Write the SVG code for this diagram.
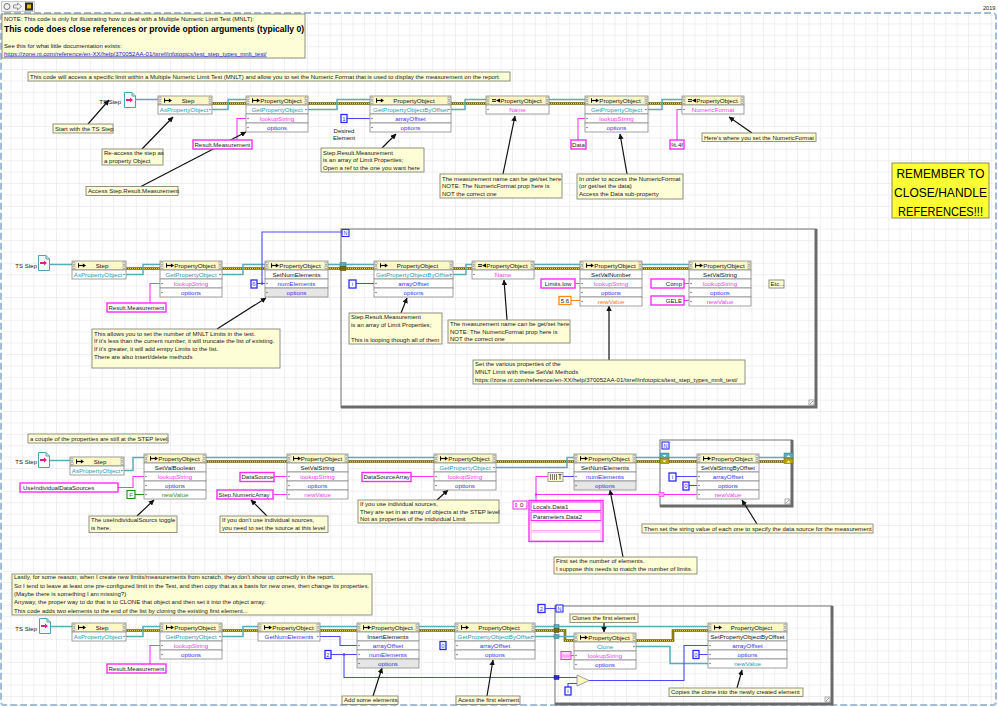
<svg xmlns="http://www.w3.org/2000/svg" width="998" height="707" viewBox="0 0 998 707">
<style>
text{font-family:"Liberation Sans",Arial,sans-serif}
.a{font-size:6.05px;fill:#1a1a1a}
.n{font-size:6.2px;text-anchor:middle;fill:#111}
.m{text-anchor:middle}
.tl{fill:#2a9aae}
.pk{fill:#f23cf0}
.bl{fill:#3535ee}
.or{fill:#ff7a00}
.gr{fill:#1b951b}
.h{fill:#fbf8c6;stroke:#8a8a8a;stroke-width:0.8}
.r{fill:#fff;stroke:#8a8a8a;stroke-width:0.8}
.rg{fill:#e6e6e6;stroke:#8a8a8a;stroke-width:0.8}
.d{fill:#555}
.cm{fill:#fdfdd6;stroke:#86867a;stroke-width:0.9}
.cs{fill:#fff;stroke:#ff2cf5;stroke-width:1.4}
.ci{fill:#fff;stroke:#2b2bff;stroke-width:1.3}
.co{fill:#fff;stroke:#ff8a1a;stroke-width:1.3}
.cg{fill:#fff;stroke:#1a8f1a;stroke-width:1.1}
.wt{fill:none;stroke:#58adb8;stroke-width:1.5}
.wp{fill:none;stroke:#ff3af2;stroke-width:1.1}
.wb{fill:none;stroke:#4a4af5;stroke-width:1.1}
.wo{fill:none;stroke:#ff8a1a;stroke-width:1.1}
.wg{fill:none;stroke:#1a8f1a;stroke-width:1.1}
.ar{fill:none;stroke:#111;stroke-width:1.2;marker-end:url(#ah)}
.lp{fill:none;stroke:#8a8a8a;stroke-width:1.2}
.lps{fill:none;stroke:#6a6a6a;stroke-width:3}
.nb{fill:#fff;stroke:#2b2bff;stroke-width:1.1}
</style>
<defs>
<pattern id="grid" width="11.4" height="11.4" patternUnits="userSpaceOnUse" x="0" y="13"><path d="M11.4 0V11.4H0" fill="none" stroke="#e2e2e2" stroke-width="1"/></pattern>
<marker id="ah" viewBox="0 0 8 8" refX="7.5" refY="4" markerWidth="5.5" markerHeight="5.5" markerUnits="userSpaceOnUse" orient="auto"><path d="M0 0L8 4L0 8z" fill="#111"/></marker>
<symbol id="ab" viewBox="0 0 3 8"><path d="M0.3 0.6h2.4v2.6h-2.4zM0.3 4.6h2.4v2.6h-2.4z" fill="#fff" stroke="#555" stroke-width="0.5"/></symbol>
<symbol id="mi" viewBox="0 0 9 5"><path d="M0.6 0v5" stroke="#000" stroke-width="1.1"/><path d="M1 2.5h5" stroke="#000" stroke-width="1.3"/><path d="M5.5 0.3L9 2.5 5.5 4.7z" fill="#000"/></symbol>
<symbol id="pi" viewBox="0 0 9 5"><path d="M0 1.5h4.5M0 3.5h4.5" stroke="#000" stroke-width="1"/><path d="M9 0.2v4.6L4.5 2.5z" fill="#000"/></symbol>
<symbol id="ts" viewBox="0 0 12 16"><path d="M0.5 0.5H8L11.5 4V15.5H0.5Z" fill="#f2fafa" stroke="#4aa5b0"/><path d="M8 0.5V4H11.5" fill="none" stroke="#4aa5b0"/><path d="M2 7h4v-1.5l3 2.5-3 2.5V9H2z" fill="#e0208a"/></symbol>
<g id="errs" fill="none">
<path d="M212 103.5H246M308 103.5H370M451 103.5H486M549 103.5H585M648 103.5H682"/>
<path d="M126 268.5H160M222 268.5H265M328 268.5H374M453 268.5H472M534 268.5H580M642 268.5H689"/>
<path d="M206 461.5H287M348 461.5H434M496 461.5H574M636 461.5H697M759 461.5H792"/>
<path d="M126 630.5H160M222 630.5H258M320 630.5H357M419 630.5H455M535 630.5H565V640.5H574M636 640.5H673V630.5H708"/>
</g>
</defs>

<rect x="0" y="0" width="998" height="707" fill="#fff"/>
<rect x="1" y="13" width="995" height="692" fill="url(#grid)"/>
<rect x="1" y="13" width="995" height="692" rx="3" fill="none" stroke="#a4bcd6" stroke-width="2" stroke-dasharray="7 3"/>

<g id="toolbar">
<rect x="1.5" y="1.5" width="33" height="10" fill="#f4f4f4" stroke="#c8c8c8"/>
<circle cx="7" cy="6.5" r="3" fill="none" stroke="#777"/>
<path d="M13.5 5h4v-2l4 3.5-4 3.5v-2h-4z" fill="none" stroke="#777" stroke-width="0.8"/>
<rect x="25" y="2.5" width="8" height="8" fill="#2b2b2b"/><rect x="27" y="4.5" width="4" height="4" fill="#e8c000"/>
<text x="983" y="10" style="font-size:5.6px" class="a">2019</text>
</g>

<g id="note">
<rect class="cm" x="2" y="14" width="303" height="44"/>
<text class="a" x="4" y="20.5">NOTE:  This code is only for illustrating how to deal with a  Multiple Numeric Limit Test (MNLT):</text>
<text x="4" y="32" style="font-size:8.3px;font-weight:bold" textLength="300" lengthAdjust="spacingAndGlyphs">This code does close references or provide option arguments (typically 0)</text>
<text class="a" x="4" y="48">See this for what little documentation exists:</text>
<text class="a" x="4" y="55.5" style="fill:#2323c8;text-decoration:underline">https://zone.ni.com/reference/en-XX/help/370052AA-01/tsref/infotopics/test_step_types_mnlt_test/</text>
</g>

<g id="remember">
<rect x="892" y="163" width="97" height="55" fill="#ffff33" stroke="#8a8a60"/>
<text x="940.5" y="177.7" class="m" style="font-size:13px" textLength="88" lengthAdjust="spacingAndGlyphs">REMEMBER TO</text>
<text x="940.5" y="196.7" class="m" style="font-size:13px" textLength="93" lengthAdjust="spacingAndGlyphs">CLOSE/HANDLE</text>
<text x="940.5" y="215.7" class="m" style="font-size:13px" textLength="85" lengthAdjust="spacingAndGlyphs">REFERENCES!!!</text>
</g>

<g id="loops">
<rect class="lp" x="341" y="229" width="475" height="178"/><path class="lps" d="M816 229V407H341"/>
<rect x="809" y="400" width="5" height="5" fill="#fff" stroke="#777" stroke-width="0.6"/><path d="M810 404L813 401" stroke="#555" stroke-width="0.6"/>
<rect class="lp" x="660" y="440" width="132" height="66"/><path class="lps" d="M792 440V506H660"/>
<rect x="785" y="499" width="5" height="5" fill="#fff" stroke="#777" stroke-width="0.6"/><path d="M786 503L789 500" stroke="#555" stroke-width="0.6"/>
<rect class="lp" x="555" y="606" width="277" height="98"/><path class="lps" d="M832 606V704H555"/>
<rect x="825" y="697" width="5" height="5" fill="#fff" stroke="#777" stroke-width="0.6"/><path d="M826 701L829 698" stroke="#555" stroke-width="0.6"/>
</g>

<g id="connectors">
<use href="#errs" stroke="#6f6200" stroke-width="2.6"/>
<use href="#errs" stroke="#eadb3c" stroke-width="0.9" stroke-dasharray="1 1"/>
<path class="wt" d="M136 99.5H158M212 109.5H228V99.5H246M308 109.5H337V99.5H370M451 109.5H465V99.5H486M549 99.5H585M648 109.5H662V99.5H682"/>
<path class="wt" d="M50 264.5H72M126 274.5H143V264.5H160M222 274.5H243V264.5H265M328 264.5H374M453 274.5H466V264.5H472M534 264.5H580M642 264.5H689"/>
<path class="wt" d="M49 460.5H70M124 470.5H133V457.5H144M206 457.5H287M348 457.5H434M496 467.5H567V457.5H574M636 457.5H697M759 457.5H792"/>
<path class="wt" d="M50 626.5H72M126 636.5H143V626.5H160M222 636.5H243V626.5H258M320 626.5H357M419 626.5H455M535 626.5H708M535 636.5H574M636 646.5H670V663.5H708"/>
<path class="wp" d="M237 140V118.5H246M578 140V118.5H585M677 140V109.5H682"/>
<path class="wp" d="M150 303V283.5H160M575 283.5H580M684 283.5H689M684 300.5H689"/>
<path class="wp" d="M118 487.5H133V476.5H144M274 476.5H287M273 494.5H287M411 476.5H434M536 500.5V476.5H548M536 494.5H697"/>
<path class="wp" d="M150 664V645.5H160M571 655.5H574"/>
<path class="wb" d="M347 118.5H370"/>
<path class="wb" d="M257 283.5H265M262 283.5V232H342M356 283.5H374"/>
<path class="wb" d="M563 476.5H574M676 476.5H697M689 485.5H697"/>
<path class="wb" d="M320 636.5H340V645.5H357M331 654.5H357M344 654.5V677.5H577M568 687V683.5H577M589 680.5H684V645.5H708M699 654.5H708M545 608.5H556"/>
<path class="wo" d="M571 300.5H580"/>
<path class="wg" d="M135 494.5H144"/>
<circle cx="262" cy="283.5" r="1.3" fill="#4a4af5"/>
<circle cx="536" cy="494.5" r="1.3" fill="#ff3af2"/>
<circle cx="344" cy="654.5" r="1.3" fill="#4a4af5"/>
<path class="ar" d="M88 124L109 100"/>
<path class="ar" d="M142 149L173 117"/>
<path class="ar" d="M140 187L246 132"/>
<path class="ar" d="M382 148L396 134"/>
<path class="ar" d="M503 174L515 116"/>
<path class="ar" d="M627 174L620 134"/>
<path class="ar" d="M752 133L729 117"/>
<path class="ar" d="M217 329L266 298"/>
<path class="ar" d="M401 313L407 298"/>
<path class="ar" d="M507 320L504 280"/>
<path class="ar" d="M609 360V306"/>
<path class="ar" d="M137 516L154 500"/>
<path class="ar" d="M267 516L251 500"/>
<path class="ar" d="M437 500L448 490"/>
<path class="ar" d="M623 557L610 490"/>
<path class="ar" d="M757 524L742 500"/>
<path class="ar" d="M373 696L382 668"/>
<path class="ar" d="M487 696L493 660"/>
<path class="ar" d="M604 623V632"/>
<path class="ar" d="M737 688L742 670"/>
</g>

<g id="tunnels">
<rect x="340" y="262.5" width="6" height="4" fill="#58adb8" stroke="#2f7f88" stroke-width="0.5"/>
<rect x="340" y="266.5" width="6" height="4" fill="#7a6c00" stroke="#4f4500" stroke-width="0.5"/>
<rect x="342" y="229.5" width="7" height="7" class="nb"/><text x="345.5" y="235.3" class="m bl" style="font-size:5.5px">N</text>
<rect x="660" y="453" width="9" height="5" fill="#58adb8" stroke="#2f7f88" stroke-width="0.5"/>
<rect x="660" y="458.5" width="9" height="5" fill="#b6a400" stroke="#6f6200" stroke-width="0.5"/>
<path d="M662.5 455h4l-2 2z" fill="#fff"/><path d="M662.5 460.5h4l-2 2z" fill="#fff"/>
<rect x="784" y="453" width="9" height="5" fill="#58adb8" stroke="#2f7f88" stroke-width="0.5"/>
<rect x="784" y="458.5" width="9" height="5" fill="#b6a400" stroke="#6f6200" stroke-width="0.5"/>
<path d="M786.5 457h4l-2 -2z" fill="#fff"/><path d="M786.5 462.5h4l-2 -2z" fill="#fff"/>
<rect x="659" y="492.5" width="5" height="4" fill="#ff9cf5" stroke="#ff2cf5" stroke-width="0.6"/>
<rect x="662" y="442" width="7" height="7" class="nb"/><text x="665.5" y="447.8" class="m bl" style="font-size:5.5px">N</text>
<rect x="554" y="624.5" width="5" height="4" fill="#58adb8" stroke="#2f7f88" stroke-width="0.5"/>
<rect x="554" y="628.5" width="5" height="4" fill="#7a6c00" stroke="#4f4500" stroke-width="0.5"/>
<rect x="554" y="634.5" width="5" height="4" fill="#58adb8" stroke="#2f7f88" stroke-width="0.5"/>
<rect x="554" y="675.5" width="5" height="4" fill="#2b2bd0" stroke="#1a1a90" stroke-width="0.5"/>
<rect x="556" y="605" width="7" height="7" class="nb"/><text x="559.5" y="610.8" class="m bl" style="font-size:5.5px">N</text>
</g>

<g id="row1">
<g id="tsstep1"><text x="121" y="104" style="font-size:6px;text-anchor:end" class="a">TS Step</text><use href="#ts" x="124" y="92" width="12" height="16"/></g>
<g id="n1-step">
<rect class="h" x="158" y="96" width="54" height="9"/><use href="#ab" x="158.5" y="96.5" width="3" height="8"/><use href="#ab" x="208.5" y="96.5" width="3" height="8"/><use href="#mi" x="164" y="98" width="8" height="5"/>
<text class="n" x="188" y="102.6">Step</text>
<rect class="r" x="158" y="105" width="54" height="9"/><text class="n tl" x="184" y="111.6">AsPropertyObject</text><circle class="d" cx="210" cy="109.5" r="0.7"/>
</g>
<g id="n1-get">
<rect class="h" x="246" y="96" width="62" height="9"/><use href="#ab" x="246.5" y="96.5" width="3" height="8"/><use href="#ab" x="304.5" y="96.5" width="3" height="8"/><use href="#mi" x="252" y="98" width="8" height="5"/>
<text class="n" x="281" y="102.6">PropertyObject</text>
<rect class="r" x="246" y="105" width="62" height="9"/><text class="n tl" x="277" y="111.6">GetPropertyObject</text><circle class="d" cx="306" cy="109.5" r="0.7"/>
<rect class="r" x="246" y="114" width="62" height="9"/><text class="n pk" x="277" y="120.6">lookupString</text><circle class="d" cx="248" cy="118.5" r="0.7"/>
<rect class="r" x="246" y="123" width="62" height="9"/><text class="n bl" x="277" y="129.6">options</text><circle class="d" cx="248" cy="127.5" r="0.7"/>
</g>
<g id="n1-byoffset">
<rect class="h" x="370" y="96" width="81" height="9"/><use href="#ab" x="370.5" y="96.5" width="3" height="8"/><use href="#ab" x="447.5" y="96.5" width="3" height="8"/><use href="#mi" x="376" y="98" width="8" height="5"/>
<text class="n" x="414" y="102.6">PropertyObject</text>
<rect class="r" x="370" y="105" width="81" height="9"/><text class="n tl" x="410.5" y="111.6">GetPropertyObjectByOffset</text><circle class="d" cx="449" cy="109.5" r="0.7"/>
<rect class="r" x="370" y="114" width="81" height="9"/><text class="n bl" x="410.5" y="120.6">arrayOffset</text><circle class="d" cx="372" cy="118.5" r="0.7"/>
<rect class="r" x="370" y="123" width="81" height="9"/><text class="n bl" x="410.5" y="129.6">options</text><circle class="d" cx="372" cy="127.5" r="0.7"/>
</g>
<g id="n1-name">
<rect class="h" x="486" y="96" width="63" height="9"/><use href="#ab" x="486.5" y="96.5" width="3" height="8"/><use href="#ab" x="545.5" y="96.5" width="3" height="8"/><use href="#pi" x="492" y="98" width="8" height="5"/>
<text class="n" x="521" y="102.6">PropertyObject</text>
<rect class="r" x="486" y="105" width="63" height="9"/><text class="n pk" x="517.5" y="111.6">Name</text><circle class="d" cx="488" cy="109.5" r="0.7"/>
</g>
<g id="n1-getdata">
<rect class="h" x="585" y="96" width="63" height="9"/><use href="#ab" x="585.5" y="96.5" width="3" height="8"/><use href="#ab" x="644.5" y="96.5" width="3" height="8"/><use href="#mi" x="591" y="98" width="8" height="5"/>
<text class="n" x="620" y="102.6">PropertyObject</text>
<rect class="r" x="585" y="105" width="63" height="9"/><text class="n tl" x="616.5" y="111.6">GetPropertyObject</text><circle class="d" cx="646" cy="109.5" r="0.7"/>
<rect class="r" x="585" y="114" width="63" height="9"/><text class="n pk" x="616.5" y="120.6">lookupString</text><circle class="d" cx="587" cy="118.5" r="0.7"/>
<rect class="r" x="585" y="123" width="63" height="9"/><text class="n bl" x="616.5" y="129.6">options</text><circle class="d" cx="587" cy="127.5" r="0.7"/>
</g>
<g id="n1-numfmt">
<rect class="h" x="682" y="96" width="62" height="9"/><use href="#ab" x="682.5" y="96.5" width="3" height="8"/><use href="#ab" x="740.5" y="96.5" width="3" height="8"/><use href="#pi" x="688" y="98" width="8" height="5"/>
<text class="n" x="717" y="102.6">PropertyObject</text>
<rect class="r" x="682" y="105" width="62" height="9"/><text class="n pk" x="713" y="111.6">NumericFormat</text><circle class="d" cx="684" cy="109.5" r="0.7"/>
</g>
<g id="k1-rm"><rect class="cs" x="193" y="140" width="59" height="9"/><text class="a" x="194.5" y="146.5">Result.Measurement</text></g>
<g id="k1-one"><rect class="ci" x="341" y="114.5" width="6" height="8"/><text class="a m bl" x="344" y="120.8">1</text></g>
<g id="k1-data"><rect class="cs" x="571" y="140" width="15" height="9"/><text class="a m" x="578.5" y="146.5">Data</text></g>
<g id="k1-fmt"><rect class="cs" x="670" y="140" width="14" height="9"/><text class="a m" x="677" y="146.5">%.4f</text></g>
<text class="a m" x="344" y="133">Desired</text><text class="a m" x="344" y="140">Element</text>
<g id="c1-intro"><rect class="cm" x="28" y="72" width="482" height="9"/><text class="a" x="30" y="78.8">This code will access a specific limit within a Multiple Numeric Limit Test (MNLT) and allow you to set the Numeric Format that is used to display the measurement on the report:</text></g>
<g id="c1-start"><rect class="cm" x="53" y="124" width="60" height="9"/><text class="a" x="55" y="130.5">Start with the TS Step</text></g>
<g id="c1-reaccess"><rect class="cm" x="102" y="149" width="61" height="16"/><text class="a" x="104" y="155.3">Re-access the step as</text><text class="a" x="104" y="162.6">a property Object</text></g>
<g id="c1-access"><rect class="cm" x="86" y="186.5" width="92" height="9"/><text class="a" x="88" y="193">Access Step.Result.Measurement</text></g>
<g id="c1-array"><rect class="cm" x="321" y="148" width="103" height="24"/><text class="a" x="323" y="154.5">Step.Result.Measurement</text><text class="a" x="323" y="162">is an array of Limit Properties;</text><text class="a" x="323" y="169.5">Open a ref to the one you want here</text></g>
<g id="c1-name"><rect class="cm" x="440" y="174" width="122" height="24"/><text class="a" x="442" y="180.5">The measurement name can be get/set here</text><text class="a" x="442" y="188.2">NOTE:  The NumericFormat prop here is</text><text class="a" x="442" y="195.8">NOT the correct one</text></g>
<g id="c1-data"><rect class="cm" x="577" y="174" width="106" height="25"/><text class="a" x="579" y="180.5">In order to access the NumericFormat</text><text class="a" x="579" y="188.2">(or get/set the data)</text><text class="a" x="579" y="195.8">Access the Data sub-property</text></g>
<g id="c1-here"><rect class="cm" x="702" y="133" width="114" height="8.5"/><text class="a" x="704" y="139.5">Here's where you set the NumericFormat</text></g>
</g>

<g id="row2">
<g id="tsstep2"><text x="37" y="267.5" style="font-size:6px;text-anchor:end" class="a">TS Step</text><use href="#ts" x="38" y="255" width="12" height="16"/></g>
<g id="n2-step">
<rect class="h" x="72" y="261" width="54" height="9"/><use href="#ab" x="72.5" y="261.5" width="3" height="8"/><use href="#ab" x="122.5" y="261.5" width="3" height="8"/><use href="#mi" x="78" y="263" width="8" height="5"/>
<text class="n" x="102" y="267.6">Step</text>
<rect class="r" x="72" y="270" width="54" height="9"/><text class="n tl" x="98" y="276.6">AsPropertyObject</text><circle class="d" cx="124" cy="274.5" r="0.7"/>
</g>
<g id="n2-get">
<rect class="h" x="160" y="261" width="62" height="9"/><use href="#ab" x="160.5" y="261.5" width="3" height="8"/><use href="#ab" x="218.5" y="261.5" width="3" height="8"/><use href="#mi" x="166" y="263" width="8" height="5"/>
<text class="n" x="195" y="267.6">PropertyObject</text>
<rect class="r" x="160" y="270" width="62" height="9"/><text class="n tl" x="191" y="276.6">GetPropertyObject</text><circle class="d" cx="220" cy="274.5" r="0.7"/>
<rect class="r" x="160" y="279" width="62" height="9"/><text class="n pk" x="191" y="285.6">lookupString</text><circle class="d" cx="162" cy="283.5" r="0.7"/>
<rect class="r" x="160" y="288" width="62" height="9"/><text class="n bl" x="191" y="294.6">options</text><circle class="d" cx="162" cy="292.5" r="0.7"/>
</g>
<g id="n2-setnum">
<rect class="h" x="265" y="261" width="63" height="9"/><use href="#ab" x="265.5" y="261.5" width="3" height="8"/><use href="#ab" x="324.5" y="261.5" width="3" height="8"/><use href="#mi" x="271" y="263" width="8" height="5"/>
<text class="n" x="300" y="267.6">PropertyObject</text>
<rect class="r" x="265" y="270" width="63" height="9"/><text class="n" x="296.5" y="276.6">SetNumElements</text>
<rect class="r" x="265" y="279" width="63" height="9"/><text class="n bl" x="296.5" y="285.6">numElements</text><circle class="d" cx="267" cy="283.5" r="0.7"/>
<rect class="rg" x="265" y="288" width="63" height="9"/><text class="n bl" x="296.5" y="294.6">options</text><circle class="d" cx="267" cy="292.5" r="0.7"/>
</g>
<g id="n2-byoffset">
<rect class="h" x="374" y="261" width="79" height="9"/><use href="#ab" x="374.5" y="261.5" width="3" height="8"/><use href="#ab" x="449.5" y="261.5" width="3" height="8"/><use href="#mi" x="380" y="263" width="8" height="5"/>
<text class="n" x="417.5" y="267.6">PropertyObject</text>
<rect class="r" x="374" y="270" width="79" height="9"/><text class="n tl" x="413.5" y="276.6">GetPropertyObjectByOffset</text><circle class="d" cx="451" cy="274.5" r="0.7"/>
<rect class="r" x="374" y="279" width="79" height="9"/><text class="n bl" x="413.5" y="285.6">arrayOffset</text><circle class="d" cx="376" cy="283.5" r="0.7"/>
<rect class="r" x="374" y="288" width="79" height="9"/><text class="n bl" x="413.5" y="294.6">options</text><circle class="d" cx="376" cy="292.5" r="0.7"/>
</g>
<g id="n2-name">
<rect class="h" x="472" y="261" width="62" height="9"/><use href="#ab" x="472.5" y="261.5" width="3" height="8"/><use href="#ab" x="530.5" y="261.5" width="3" height="8"/><use href="#pi" x="478" y="263" width="8" height="5"/>
<text class="n" x="507" y="267.6">PropertyObject</text>
<rect class="r" x="472" y="270" width="62" height="9"/><text class="n pk" x="503" y="276.6">Name</text><circle class="d" cx="474" cy="274.5" r="0.7"/>
</g>
<g id="n2-setvalnum">
<rect class="h" x="580" y="261" width="62" height="9"/><use href="#ab" x="580.5" y="261.5" width="3" height="8"/><use href="#ab" x="638.5" y="261.5" width="3" height="8"/><use href="#mi" x="586" y="263" width="8" height="5"/>
<text class="n" x="615" y="267.6">PropertyObject</text>
<rect class="r" x="580" y="270" width="62" height="9"/><text class="n" x="611" y="276.6">SetValNumber</text>
<rect class="r" x="580" y="279" width="62" height="9"/><text class="n pk" x="611" y="285.6">lookupString</text><circle class="d" cx="582" cy="283.5" r="0.7"/>
<rect class="r" x="580" y="288" width="62" height="9"/><text class="n bl" x="611" y="294.6">options</text><circle class="d" cx="582" cy="292.5" r="0.7"/>
<rect class="r" x="580" y="297" width="62" height="9"/><text class="n or" x="611" y="303.6">newValue</text><circle class="d" cx="582" cy="301.5" r="0.7"/>
</g>
<g id="n2-setvalstr">
<rect class="h" x="689" y="261" width="62" height="9"/><use href="#ab" x="689.5" y="261.5" width="3" height="8"/><use href="#ab" x="747.5" y="261.5" width="3" height="8"/><use href="#mi" x="695" y="263" width="8" height="5"/>
<text class="n" x="724" y="267.6">PropertyObject</text>
<rect class="r" x="689" y="270" width="62" height="9"/><text class="n" x="720" y="276.6">SetValString</text>
<rect class="r" x="689" y="279" width="62" height="9"/><text class="n pk" x="720" y="285.6">lookupString</text><circle class="d" cx="691" cy="283.5" r="0.7"/>
<rect class="r" x="689" y="288" width="62" height="9"/><text class="n bl" x="720" y="294.6">options</text><circle class="d" cx="691" cy="292.5" r="0.7"/>
<rect class="r" x="689" y="297" width="62" height="9"/><text class="n pk" x="720" y="303.6">newValue</text><circle class="d" cx="691" cy="301.5" r="0.7"/>
</g>
<g id="k2-rm"><rect class="cs" x="107" y="303" width="59" height="9"/><text class="a" x="108.5" y="309.5">Result.Measurement</text></g>
<g id="k2-six"><rect class="ci" x="251" y="280" width="6" height="8"/><text class="a m bl" x="254" y="286.3">6</text></g>
<g id="k2-i"><rect class="ci" x="349" y="280" width="7" height="8"/><text class="a m bl" x="352.5" y="286.3">i</text></g>
<g id="k2-low"><rect class="cs" x="541" y="279" width="34" height="9"/><text class="a m" x="558" y="285.5">Limits.low</text></g>
<g id="k2-56"><rect class="co" x="559" y="296.5" width="12" height="8"/><text class="a m" x="565" y="302.8">5.6</text></g>
<g id="k2-comp"><rect class="cs" x="651" y="279" width="33" height="9"/><text class="a" x="682" y="285.5" style="text-anchor:end">Comp</text></g>
<g id="k2-gele"><rect class="cs" x="651" y="296" width="33" height="9"/><text class="a" x="682" y="302.5" style="text-anchor:end">GELE</text></g>
<g id="k2-etc"><rect class="cm" x="769" y="280" width="15" height="8"/><text class="a" x="770.5" y="286.2">Etc...</text></g>
<g id="c2-num"><rect class="cm" x="92" y="329" width="188" height="39"/><text class="a" x="94" y="335.5">This allows you to set the number of MNLT Limits in the test.</text><text class="a" x="94" y="343.2">If it's less than the current number, it will truncate the list of existing.</text><text class="a" x="94" y="350.9">If it's greater, it will add emtpy Limits to the list.</text><text class="a" x="94" y="358.6">There are also insert/delete methods</text></g>
<g id="c2-array"><rect class="cm" x="349" y="313" width="93" height="31"/><text class="a" x="351" y="319.3">Step.Result.Measurement</text><text class="a" x="351" y="327">is an array of Limit Properties;</text><text class="a" x="351" y="342.2">This is looping though all of them</text></g>
<g id="c2-name"><rect class="cm" x="448" y="320" width="122" height="23"/><text class="a" x="450" y="326">The measurement name can be get/set here</text><text class="a" x="450" y="333.7">NOTE:  The NumericFormat prop here is</text><text class="a" x="450" y="341">NOT the correct one</text></g>
<g id="c2-setval"><rect class="cm" x="473" y="360" width="272" height="24"/><text class="a" x="475" y="366.3">Set the various properties of the</text><text class="a" x="475" y="374">MNLT Limit with these SetVal Methods</text><text class="a" x="475" y="381.7">https://zone.ni.com/reference/en-XX/help/370052AA-01/tsref/infotopics/test_step_types_mnlt_test/</text></g>
</g>

<g id="row3">
<g id="c3-step"><rect class="cm" x="28" y="434" width="140" height="9"/><text class="a" x="30" y="440.5">a couple of the properties are still at the STEP level:</text></g>
<g id="tsstep3"><text x="37" y="464" style="font-size:6px;text-anchor:end" class="a">TS Step</text><use href="#ts" x="38" y="452" width="12" height="16"/></g>
<g id="n3-step">
<rect class="h" x="70" y="457" width="54" height="9"/><use href="#ab" x="70.5" y="457.5" width="3" height="8"/><use href="#ab" x="120.5" y="457.5" width="3" height="8"/><use href="#mi" x="76" y="459" width="8" height="5"/>
<text class="n" x="100" y="463.6">Step</text>
<rect class="r" x="70" y="466" width="54" height="9"/><text class="n tl" x="96" y="472.6">AsPropertyObject</text><circle class="d" cx="122" cy="470.5" r="0.7"/>
</g>
<g id="n3-setbool">
<rect class="h" x="144" y="454" width="62" height="9"/><use href="#ab" x="144.5" y="454.5" width="3" height="8"/><use href="#ab" x="202.5" y="454.5" width="3" height="8"/><use href="#mi" x="150" y="456" width="8" height="5"/>
<text class="n" x="179" y="460.6">PropertyObject</text>
<rect class="r" x="144" y="463" width="62" height="9"/><text class="n" x="175" y="469.6">SetValBoolean</text>
<rect class="r" x="144" y="472" width="62" height="9"/><text class="n pk" x="175" y="478.6">lookupString</text><circle class="d" cx="146" cy="476.5" r="0.7"/>
<rect class="r" x="144" y="481" width="62" height="9"/><text class="n bl" x="175" y="487.6">options</text><circle class="d" cx="146" cy="485.5" r="0.7"/>
<rect class="r" x="144" y="490" width="62" height="9"/><text class="n gr" x="175" y="496.6">newValue</text><circle class="d" cx="146" cy="494.5" r="0.7"/>
</g>
<g id="n3-setstr">
<rect class="h" x="287" y="454" width="61" height="9"/><use href="#ab" x="287.5" y="454.5" width="3" height="8"/><use href="#ab" x="344.5" y="454.5" width="3" height="8"/><use href="#mi" x="293" y="456" width="8" height="5"/>
<text class="n" x="321.5" y="460.6">PropertyObject</text>
<rect class="r" x="287" y="463" width="61" height="9"/><text class="n" x="317.5" y="469.6">SetValString</text>
<rect class="r" x="287" y="472" width="61" height="9"/><text class="n pk" x="317.5" y="478.6">lookupString</text><circle class="d" cx="289" cy="476.5" r="0.7"/>
<rect class="r" x="287" y="481" width="61" height="9"/><text class="n bl" x="317.5" y="487.6">options</text><circle class="d" cx="289" cy="485.5" r="0.7"/>
<rect class="r" x="287" y="490" width="61" height="9"/><text class="n pk" x="317.5" y="496.6">newValue</text><circle class="d" cx="289" cy="494.5" r="0.7"/>
</g>
<g id="n3-getarr">
<rect class="h" x="434" y="454" width="62" height="9"/><use href="#ab" x="434.5" y="454.5" width="3" height="8"/><use href="#ab" x="492.5" y="454.5" width="3" height="8"/><use href="#mi" x="440" y="456" width="8" height="5"/>
<text class="n" x="469" y="460.6">PropertyObject</text>
<rect class="r" x="434" y="463" width="62" height="9"/><text class="n tl" x="465" y="469.6">GetPropertyObject</text><circle class="d" cx="494" cy="467.5" r="0.7"/>
<rect class="r" x="434" y="472" width="62" height="9"/><text class="n pk" x="465" y="478.6">lookupString</text><circle class="d" cx="436" cy="476.5" r="0.7"/>
<rect class="r" x="434" y="481" width="62" height="9"/><text class="n bl" x="465" y="487.6">options</text><circle class="d" cx="436" cy="485.5" r="0.7"/>
</g>
<g id="n3-setnum">
<rect class="h" x="574" y="454" width="62" height="9"/><use href="#ab" x="574.5" y="454.5" width="3" height="8"/><use href="#ab" x="632.5" y="454.5" width="3" height="8"/><use href="#mi" x="580" y="456" width="8" height="5"/>
<text class="n" x="609" y="460.6">PropertyObject</text>
<rect class="r" x="574" y="463" width="62" height="9"/><text class="n" x="605" y="469.6">SetNumElements</text>
<rect class="r" x="574" y="472" width="62" height="9"/><text class="n bl" x="605" y="478.6">numElements</text><circle class="d" cx="576" cy="476.5" r="0.7"/>
<rect class="rg" x="574" y="481" width="62" height="9"/><text class="n bl" x="605" y="487.6">options</text><circle class="d" cx="576" cy="485.5" r="0.7"/>
</g>
<g id="n3-setbyoff">
<rect class="h" x="697" y="454" width="62" height="9"/><use href="#ab" x="697.5" y="454.5" width="3" height="8"/><use href="#ab" x="755.5" y="454.5" width="3" height="8"/><use href="#mi" x="703" y="456" width="8" height="5"/>
<text class="n" x="732" y="460.6">PropertyObject</text>
<rect class="r" x="697" y="463" width="62" height="9"/><text class="n" x="728" y="469.6" style="font-size:5.8px">SetValStringByOffset</text>
<rect class="r" x="697" y="472" width="62" height="9"/><text class="n bl" x="728" y="478.6">arrayOffset</text><circle class="d" cx="699" cy="476.5" r="0.7"/>
<rect class="r" x="697" y="481" width="62" height="9"/><text class="n bl" x="728" y="487.6">options</text><circle class="d" cx="699" cy="485.5" r="0.7"/>
<rect class="r" x="697" y="490" width="62" height="9"/><text class="n pk" x="728" y="496.6">newValue</text><circle class="d" cx="699" cy="494.5" r="0.7"/>
</g>
<g id="k3-useind"><rect class="cs" x="20" y="483" width="98" height="9"/><text class="a" x="23" y="489.5">UseIndividualDataSources</text></g>
<g id="k3-f"><rect class="cg" x="127" y="490.5" width="8" height="8"/><text class="a m gr" x="131" y="496.8">F</text></g>
<g id="k3-ds"><rect class="cs" x="240" y="472.5" width="34" height="9"/><text class="a" x="241.5" y="479">DataSource</text></g>
<g id="k3-na"><rect class="cs" x="217" y="490" width="56" height="9"/><text class="a" x="218.5" y="496.5">Step.NumericArray</text></g>
<g id="k3-dsa"><rect class="cs" x="362" y="472.5" width="49" height="9"/><text class="a" x="363.5" y="479">DataSourceArray</text></g>
<g id="k3-array">
<rect x="513" y="501" width="14" height="8" fill="#fff" stroke="#ff2cf5" stroke-width="1"/><path d="M514.5 504.5l1.5-2 1.5 2zM514.5 505.5l1.5 2 1.5-2z" fill="#ff2cf5"/><text class="a" x="520" y="507.3">0</text>
<rect x="529" y="500.5" width="74" height="41" fill="#fff" stroke="#ff2cf5" stroke-width="1.4"/>
<rect x="531" y="502" width="70" height="8.5" fill="#fff" stroke="#ff2cf5" stroke-width="1"/><text class="a" x="533" y="508.5">Locals.Data1</text>
<rect x="531" y="512" width="70" height="8.5" fill="#fff" stroke="#ff2cf5" stroke-width="1"/><text class="a" x="533" y="518.5">Parameters.Data2</text>
<rect x="531" y="522" width="70" height="8.5" fill="#fff" stroke="#ff9cf5" stroke-width="0.8"/>
<rect x="531" y="532" width="70" height="8.5" fill="#fff" stroke="#ff9cf5" stroke-width="0.8"/>
</g>
<g id="k3-size"><rect x="548" y="472.5" width="15" height="9" fill="#fbf8c6" stroke="#888" stroke-width="0.8"/><path d="M550.5 474v6M552.5 474v6M554.5 474v6M556.5 474v6" stroke="#555" stroke-width="0.8"/><path d="M558.5 474.5h3M560 474.5v5" stroke="#333" stroke-width="0.8"/></g>
<g id="k3-i"><rect class="ci" x="669" y="473" width="7" height="8"/><text class="a m bl" x="672.5" y="479.3">i</text></g>
<g id="k3-zero"><rect class="ci" x="683" y="482" width="6" height="8"/><text class="a m bl" x="686" y="488.3">0</text></g>
<g id="c3-toggle"><rect class="cm" x="89" y="516" width="88" height="16.5"/><text class="a" x="91" y="522.3">The useIndividualSourcs toggle</text><text class="a" x="91" y="530.3">is here.</text></g>
<g id="c3-dont"><rect class="cm" x="220" y="516" width="108" height="16.5"/><text class="a" x="222" y="522.3">If you don't use individual sources,</text><text class="a" x="222" y="530.3">you need to set the source at this level</text></g>
<g id="c3-use"><rect class="cm" x="358" y="500" width="141" height="23"/><text class="a" x="360" y="506.3">If you use individual sources,</text><text class="a" x="360" y="513.7">They are set in an array of objects at the STEP level</text><text class="a" x="360" y="521.3">Not as properties of the inidividual Limit</text></g>
<g id="c3-first"><rect class="cm" x="554" y="557" width="143" height="17"/><text class="a" x="556" y="563">First set the number of elements.</text><text class="a" x="556" y="571">I suppose this needs to match the number of limits.</text></g>
<g id="c3-then"><rect class="cm" x="642" y="524" width="231" height="9"/><text class="a" x="644" y="530.5">Then set the string value of each one to specify the data source for the measurement</text></g>
</g>

<g id="row4">
<g id="c4-lastly"><rect class="cm" x="12" y="574" width="360" height="41"/>
<text class="a" x="14" y="579.3">Lastly, for some reason, when I create new limits/measurements from scratch, they don't show up correctly in the report.</text>
<text class="a" x="14" y="587.6">So I tend to leave at least one pre-configured limit in the Test, and then copy that as a basis for new ones, then change its properties.</text>
<text class="a" x="14" y="596">(Maybe there is something I am missing?)</text>
<text class="a" x="14" y="604.4">Anyway, the proper way to do that is to CLONE that object and then set it into the object array.</text>
<text class="a" x="14" y="612.7">This code adds two elements to the end of the list by cloning the existing first element...</text></g>
<g id="tsstep4"><text x="37" y="630.5" style="font-size:6px;text-anchor:end" class="a">TS Step</text><use href="#ts" x="39" y="618" width="12" height="16"/></g>
<g id="n4-step">
<rect class="h" x="72" y="623" width="54" height="9"/><use href="#ab" x="72.5" y="623.5" width="3" height="8"/><use href="#ab" x="122.5" y="623.5" width="3" height="8"/><use href="#mi" x="78" y="625" width="8" height="5"/>
<text class="n" x="102" y="629.6">Step</text>
<rect class="r" x="72" y="632" width="54" height="9"/><text class="n tl" x="98" y="638.6">AsPropertyObject</text><circle class="d" cx="124" cy="636.5" r="0.7"/>
</g>
<g id="n4-get">
<rect class="h" x="160" y="623" width="62" height="9"/><use href="#ab" x="160.5" y="623.5" width="3" height="8"/><use href="#ab" x="218.5" y="623.5" width="3" height="8"/><use href="#mi" x="166" y="625" width="8" height="5"/>
<text class="n" x="195" y="629.6">PropertyObject</text>
<rect class="r" x="160" y="632" width="62" height="9"/><text class="n tl" x="191" y="638.6">GetPropertyObject</text><circle class="d" cx="220" cy="636.5" r="0.7"/>
<rect class="r" x="160" y="641" width="62" height="9"/><text class="n pk" x="191" y="647.6">lookupString</text><circle class="d" cx="162" cy="645.5" r="0.7"/>
<rect class="r" x="160" y="650" width="62" height="9"/><text class="n bl" x="191" y="656.6">options</text><circle class="d" cx="162" cy="654.5" r="0.7"/>
</g>
<g id="n4-getnum">
<rect class="h" x="258" y="623" width="62" height="9"/><use href="#ab" x="258.5" y="623.5" width="3" height="8"/><use href="#ab" x="316.5" y="623.5" width="3" height="8"/><use href="#mi" x="264" y="625" width="8" height="5"/>
<text class="n" x="293" y="629.6">PropertyObject</text>
<rect class="r" x="258" y="632" width="62" height="9"/><text class="n bl" x="289" y="638.6">GetNumElements</text><circle class="d" cx="318" cy="636.5" r="0.7"/>
</g>
<g id="n4-insert">
<rect class="h" x="357" y="623" width="62" height="9"/><use href="#ab" x="357.5" y="623.5" width="3" height="8"/><use href="#ab" x="415.5" y="623.5" width="3" height="8"/><use href="#mi" x="363" y="625" width="8" height="5"/>
<text class="n" x="392" y="629.6">PropertyObject</text>
<rect class="r" x="357" y="632" width="62" height="9"/><text class="n" x="388" y="638.6">InsertElements</text>
<rect class="r" x="357" y="641" width="62" height="9"/><text class="n bl" x="388" y="647.6">arrayOffset</text><circle class="d" cx="359" cy="645.5" r="0.7"/>
<rect class="r" x="357" y="650" width="62" height="9"/><text class="n bl" x="388" y="656.6">numElements</text><circle class="d" cx="359" cy="654.5" r="0.7"/>
<rect class="rg" x="357" y="659" width="62" height="9"/><text class="n bl" x="388" y="665.6">options</text><circle class="d" cx="359" cy="663.5" r="0.7"/>
</g>
<g id="n4-byoffset">
<rect class="h" x="455" y="623" width="80" height="9"/><use href="#ab" x="455.5" y="623.5" width="3" height="8"/><use href="#ab" x="531.5" y="623.5" width="3" height="8"/><use href="#mi" x="461" y="625" width="8" height="5"/>
<text class="n" x="499" y="629.6">PropertyObject</text>
<rect class="r" x="455" y="632" width="80" height="9"/><text class="n tl" x="495" y="638.6">GetPropertyObjectByOffset</text><circle class="d" cx="533" cy="636.5" r="0.7"/>
<rect class="r" x="455" y="641" width="80" height="9"/><text class="n bl" x="495" y="647.6">arrayOffset</text><circle class="d" cx="457" cy="645.5" r="0.7"/>
<rect class="r" x="455" y="650" width="80" height="9"/><text class="n bl" x="495" y="656.6">options</text><circle class="d" cx="457" cy="654.5" r="0.7"/>
</g>
<g id="n4-clone">
<rect class="h" x="574" y="633" width="62" height="9"/><use href="#ab" x="574.5" y="633.5" width="3" height="8"/><use href="#ab" x="632.5" y="633.5" width="3" height="8"/><use href="#mi" x="580" y="635" width="8" height="5"/>
<text class="n" x="609" y="639.6">PropertyObject</text>
<rect class="r" x="574" y="642" width="62" height="9"/><text class="n tl" x="605" y="648.6">Clone</text><circle class="d" cx="634" cy="646.5" r="0.7"/>
<rect class="r" x="574" y="651" width="62" height="9"/><text class="n pk" x="605" y="657.6">lookupString</text><circle class="d" cx="576" cy="655.5" r="0.7"/>
<rect class="r" x="574" y="660" width="62" height="9"/><text class="n bl" x="605" y="666.6">options</text><circle class="d" cx="576" cy="664.5" r="0.7"/>
</g>
<g id="n4-setbyoff">
<rect class="h" x="708" y="623" width="79" height="9"/><use href="#ab" x="708.5" y="623.5" width="3" height="8"/><use href="#ab" x="783.5" y="623.5" width="3" height="8"/><use href="#mi" x="714" y="625" width="8" height="5"/>
<text class="n" x="751.5" y="629.6">PropertyObject</text>
<rect class="r" x="708" y="632" width="79" height="9"/><text class="n" x="747.5" y="638.6">SetPropertyObjectByOffset</text>
<rect class="r" x="708" y="641" width="79" height="9"/><text class="n bl" x="747.5" y="647.6">arrayOffset</text><circle class="d" cx="710" cy="645.5" r="0.7"/>
<rect class="r" x="708" y="650" width="79" height="9"/><text class="n bl" x="747.5" y="656.6">options</text><circle class="d" cx="710" cy="654.5" r="0.7"/>
<rect class="r" x="708" y="659" width="79" height="9"/><text class="n tl" x="747.5" y="665.6">newValue</text><circle class="d" cx="710" cy="663.5" r="0.7"/>
</g>
<g id="n4-add"><path d="M577 675L589 680.5L577 686Z" fill="#fdf7c0" stroke="#888" stroke-width="0.8"/></g>
<g id="k4-rm"><rect class="cs" x="107" y="664" width="59" height="9"/><text class="a" x="108.5" y="670.5">Result.Measurement</text></g>
<g id="k4-two"><rect class="ci" x="325" y="650.5" width="6" height="8"/><text class="a m bl" x="328" y="656.8">2</text></g>
<g id="k4-zero1"><rect class="ci" x="440" y="641.5" width="6" height="8"/><text class="a m bl" x="443" y="647.8">0</text></g>
<g id="k4-n2"><rect class="ci" x="538" y="604.5" width="7" height="8"/><text class="a m bl" x="541.5" y="610.8">2</text></g>
<g id="k4-empty"><rect x="561" y="651.5" width="10" height="8" fill="#ffd8ff" stroke="#ff2cf5" stroke-width="1"/><path d="M563 657.5v-3M565 657.5v-3M567 657.5v-3M569 657.5v-3" stroke="#ff2cf5" stroke-width="0.6"/></g>
<g id="k4-i"><rect class="ci" x="565" y="687" width="6" height="8"/><text class="a m bl" x="568" y="693.3">i</text></g>
<g id="k4-zero2"><rect class="ci" x="693" y="650.5" width="6" height="8"/><text class="a m bl" x="696" y="656.8">0</text></g>
<g id="c4-add"><rect class="cm" x="342" y="696" width="56" height="8.5"/><text class="a" x="344" y="702.3">Add some elements</text></g>
<g id="c4-acess"><rect class="cm" x="456" y="696" width="64" height="8.5"/><text class="a" x="458" y="702.3">Acess the first element</text></g>
<g id="c4-clones"><rect class="cm" x="570" y="614" width="68" height="8.5"/><text class="a" x="572" y="620.3">Clones the first element</text></g>
<g id="c4-copies"><rect class="cm" x="669" y="688" width="134" height="8.5"/><text class="a" x="671" y="694.3">Copies the clone into the newly created element</text></g>
</g>
</svg>
